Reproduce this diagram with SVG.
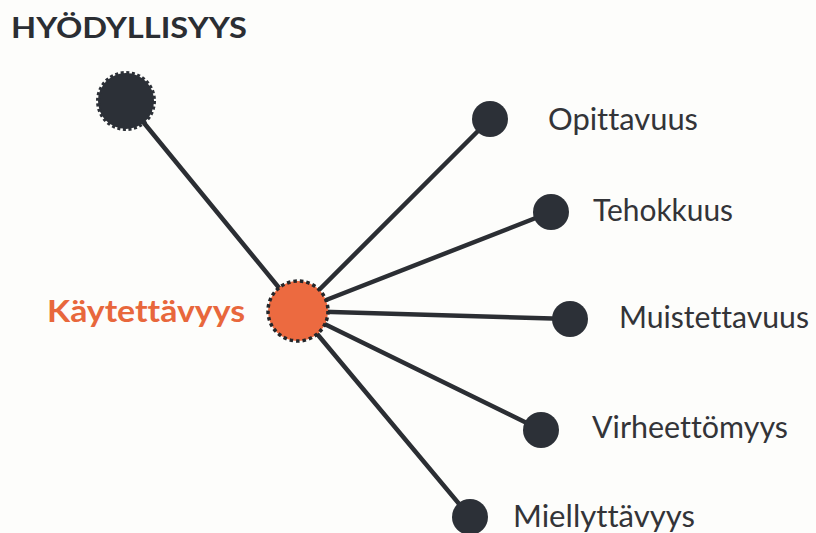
<svg xmlns="http://www.w3.org/2000/svg" width="816" height="533" viewBox="0 0 816 533">
<style>
.edge{stroke:#2b2e33;stroke-width:4.5;fill:none;stroke-linecap:round}
.leaf{fill:#2c3037}
text{font-variant-ligatures:none}
.lbl{font-family:Lato,"Open Sans","Liberation Sans",sans-serif;font-size:30px;fill:#333438}
.title{font-family:Lato,"Liberation Sans",sans-serif;font-size:29px;font-weight:bold;fill:#2b2e33}
.hub{font-family:Lato,"Liberation Sans",sans-serif;font-size:30px;font-weight:bold;fill:#e8673c}
</style>
<rect width="816" height="533" fill="#fdfdfb"/>
<text class="title" x="11" y="38" textLength="236" lengthAdjust="spacingAndGlyphs">HYÖDYLLISYYS</text>
<g id="connectors">
<line class="edge" x1="126" y1="101" x2="298" y2="311"/>
<line class="edge" x1="298" y1="311" x2="490" y2="119"/>
<line class="edge" x1="298" y1="311" x2="551" y2="212"/>
<line class="edge" x1="298" y1="311" x2="570" y2="319"/>
<line class="edge" x1="298" y1="311" x2="541" y2="430"/>
<line class="edge" x1="298" y1="311" x2="470" y2="517"/>
</g>
<g id="hyodyllisyys">
<circle cx="126" cy="101" r="28" fill="#2c3037" stroke="#2c3037" stroke-width="4" stroke-dasharray="3 2.5"/>
</g>
<g id="kaytettavyys">
<circle cx="298" cy="311" r="30" fill="#ec6a40" stroke="#23262a" stroke-width="3.5" stroke-dasharray="3.5 3"/>
<text class="hub" x="47" y="322" textLength="198" lengthAdjust="spacingAndGlyphs">Käytettävyys</text>
</g>
<g id="opittavuus">
<circle class="leaf" cx="490" cy="119" r="18"/>
<text class="lbl" x="548" y="130" textLength="150" lengthAdjust="spacingAndGlyphs">Opittavuus</text>
</g>
<g id="tehokkuus">
<circle class="leaf" cx="551" cy="212" r="18"/>
<text class="lbl" x="593" y="221" textLength="140" lengthAdjust="spacingAndGlyphs">Tehokkuus</text>
</g>
<g id="muistettavuus">
<circle class="leaf" cx="570" cy="319" r="18"/>
<text class="lbl" x="619" y="328" textLength="190" lengthAdjust="spacingAndGlyphs">Muistettavuus</text>
</g>
<g id="virheettomyys">
<circle class="leaf" cx="541" cy="430" r="18"/>
<text class="lbl" x="592" y="438" textLength="196" lengthAdjust="spacingAndGlyphs">Virheettömyys</text>
</g>
<g id="miellyttavyys">
<circle class="leaf" cx="470" cy="517" r="18"/>
<text class="lbl" x="513" y="527" textLength="182" lengthAdjust="spacingAndGlyphs">Miellyttävyys</text>
</g>
</svg>
